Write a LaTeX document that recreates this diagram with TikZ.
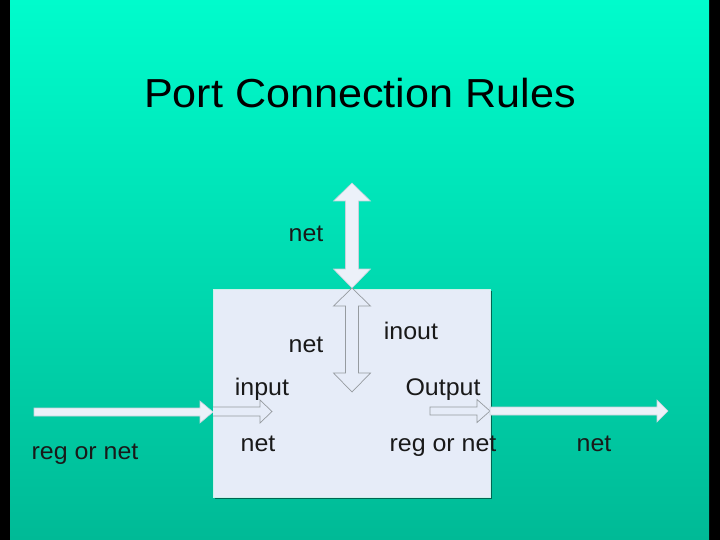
\documentclass[tikz,border=0pt]{standalone}
\usepackage{fontspec}
\setmainfont{Liberation Sans}
\newcommand{\wlbl}[1]{\scalebox{1.04}[1]{#1}}
\begin{document}
\begin{tikzpicture}[x=1pt,y=-1pt,
  lbl/.style={font=\fontsize{24}{27}\selectfont, anchor=base, inner sep=0pt, text=black!90},
  solidarrow/.style={fill=arrowfill, draw=arrowedge, line width=0.6pt, line join=miter},
  hollowarrow/.style={fill=boxfill, draw=hollowedge, line width=0.7pt, line join=miter}]
\definecolor{bgtop}{RGB}{0,252,204}
\definecolor{bgbot}{RGB}{0,186,150}
\definecolor{boxfill}{RGB}{230,236,248}
\definecolor{arrowfill}{RGB}{236,241,249}
\definecolor{arrowedge}{RGB}{200,210,220}
\definecolor{hollowedge}{RGB}{150,155,160}
\useasboundingbox (0,0) rectangle (720,540);
\fill[black] (0,0) rectangle (720,540);
\shade[top color=bgtop, bottom color=bgbot] (10,0) rectangle (709,540);
% title
\node[font=\fontsize{40.5}{44}\selectfont, anchor=base, inner sep=0pt] (title) at (360,108) {\scalebox{1.065}[1]{Port Connection Rules}};
% box with shadow
\fill[black!45!bgbot] (215,291) rectangle (492,499);
\node[draw=white!80!bgbot, line width=0.6pt, fill=boxfill, minimum width=277pt, minimum height=208pt, anchor=north west, inner sep=0pt] (box) at (213,289) {};
% top double arrow (outside)
\draw[solidarrow] (352,183) -- (370.5,201) -- (358.5,201) -- (358.5,269) -- (370.5,269) -- (352,288)
  -- (333.5,269) -- (345.5,269) -- (345.5,201) -- (333.5,201) -- cycle;
% inner double arrow
\draw[hollowarrow] (352,288) -- (370.5,306) -- (358.5,306) -- (358.5,373) -- (370.5,373) -- (352,392)
  -- (333.5,373) -- (345.5,373) -- (345.5,306) -- (333.5,306) -- cycle;
% left outer arrow
\draw[solidarrow] (34,408) -- (200,408) -- (200,401) -- (213,412) -- (200,423) -- (200,416) -- (34,416) -- cycle;
% input inner arrow
\draw[hollowarrow] (213,407) -- (260,407) -- (260,400) -- (272,411.5) -- (260,423) -- (260,416) -- (213,416);
% output inner arrow
\draw[hollowarrow] (430,407) -- (477,407) -- (477,399.5) -- (490,411) -- (477,422.5) -- (477,415) -- (430,415) -- cycle;
% output outer arrow
\draw[solidarrow] (490,407) -- (657,407) -- (657,400) -- (668,411) -- (657,422) -- (657,415) -- (490,415) -- cycle;
% labels
\node[lbl] (nettop) at (306,241) {\wlbl{net}};
\node[lbl] (netin) at (306,352) {\wlbl{net}};
\node[lbl] (inout) at (411,339) {\wlbl{inout}};
\node[lbl] (input) at (262,395) {\wlbl{input}};
\node[lbl] (output) at (443,395) {\wlbl{Output}};
\node[lbl] (netinput) at (258,451) {\wlbl{net}};
\node[lbl] (regnetout) at (443,451) {\wlbl{reg or net}};
\node[lbl] (netout) at (594,451) {\wlbl{net}};
\node[lbl] (regnetin) at (85,459) {\wlbl{reg or net}};
\end{tikzpicture}
\end{document}
